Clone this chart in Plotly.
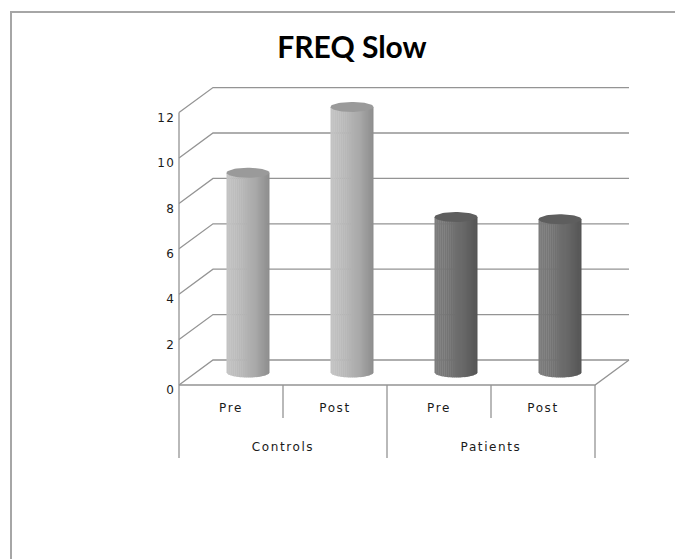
import numpy as np
import plotly.graph_objects as go

# ---- data ----
groups = ["Controls", "Patients"]
phases = ["Pre", "Post"]
values = [8.8, 11.7, 6.85, 6.75]          # Controls Pre, Controls Post, Patients Pre, Patients Post
series_of_bar = [0, 0, 1, 1]               # colour series per bar
y_ticks = [0, 2, 4, 6, 8, 10, 12]
title_text = "FREQ Slow"

# ---- geometry / style (pixel-derived; page body has an 8px margin) ----
OFF = 8
W, H = 683, 559
PX_X = 104.0      # px per category
PX_Y = 22.7       # px per value unit
X0_PX, Y0_PX = 179, 385          # front origin in page pixels
L_PX, R_PX, T_PX, B_PX = 177, 645, 80, 462   # plot area in page pixels
DX = 34 / PX_X
DY = 25 / PX_Y
GRID = "#949494"

L, R, T, B = L_PX - OFF, R_PX - OFF, T_PX - OFF, B_PX - OFF
xr = [(L_PX - X0_PX) / PX_X, (R_PX - X0_PX) / PX_X]
yr = [(Y0_PX - B_PX) / PX_Y, (Y0_PX - T_PX) / PX_Y]

def spaced(s, ls=1.6):
    return "<span style='letter-spacing:%spx'>%s</span>" % (ls, s)

fig = go.Figure()

def line(xs, ys, color=GRID, width=1.3):
    fig.add_trace(go.Scatter(x=xs, y=ys, mode="lines", line=dict(color=color, width=width),
                             hoverinfo="skip", showlegend=False))

# walls / floor
gx, gy = [], []
for v in y_ticks:
    gx += [0, DX, 4 + DX, None]
    gy += [v, v + DY, v + DY, None]
line(gx, gy)
line([0, 4, 4 + DX], [0, 0, DY])
line([0, 0], [0, y_ticks[-1]])

# category table lines
y_low = (Y0_PX - 458) / PX_Y
y_mid = (Y0_PX - 418) / PX_Y
tx, ty = [], []
for xv in [0, 2, 4]:
    tx += [xv, xv, None]; ty += [0, y_low, None]
for xv in [1, 3]:
    tx += [xv, xv, None]; ty += [0, y_mid, None]
line(tx, ty)

# cylinders
a = 21.5 / PX_X
b = 5.0 / PX_Y
side_cols = [
    [(196, 196, 196), (184, 184, 184), (170, 170, 170), (140, 140, 140)],
    [(125, 125, 125), (115, 115, 115), (104, 104, 104), (84, 84, 84)],
]
top_cols = ["#9a9a9a", "#5e5e5e"]

def interp(stops, t):
    n = len(stops) - 1
    k = min(int(t * n), n - 1)
    f = t * n - k
    c = [stops[k][j] + (stops[k + 1][j] - stops[k][j]) * f for j in range(3)]
    return "rgb(%d,%d,%d)" % tuple(int(round(v)) for v in c)

N = 22
for i, val in enumerate(values):
    cx = i + 0.5 + DX / 2
    base = DY / 2
    s = series_of_bar[i]
    for k in range(N):
        xa = cx - a + 2 * a * k / N
        xb = cx - a + 2 * a * (k + 1) / N
        xb2 = min(xb + 0.004, cx + a)
        xs = np.linspace(xa, xb2, 4)
        bot = base - b * np.sqrt(np.clip(1 - ((xs - cx) / a) ** 2, 0, 1))
        px = list(xs) + [xb2, xa, xa]
        py = list(bot) + [val + base, val + base, bot[0]]
        col = interp(side_cols[s], (k + 0.5) / N)
        fig.add_trace(go.Scatter(x=px, y=py, mode="lines", fill="toself", fillcolor=col,
                                 line=dict(width=0, color=col), hoverinfo="skip", showlegend=False))
    th = np.linspace(0, 2 * np.pi, 60)
    fig.add_trace(go.Scatter(x=cx + a * np.cos(th), y=val + base + b * np.sin(th), mode="lines",
                             fill="toself", fillcolor=top_cols[s], line=dict(width=0, color=top_cols[s]),
                             hoverinfo="skip", showlegend=False))

# category labels
lab_font = dict(family="DejaVu Sans", size=12, color="#1a1a1a")
fig.add_trace(go.Scatter(x=[0.5, 1.5, 2.5, 3.5], y=[(Y0_PX - 409) / PX_Y] * 4, mode="text",
                         text=[spaced(p) for p in phases * 2], textfont=lab_font,
                         hoverinfo="skip", showlegend=False))
fig.add_trace(go.Scatter(x=[1, 3], y=[(Y0_PX - 448) / PX_Y] * 2, mode="text",
                         text=[spaced(g) for g in groups], textfont=lab_font,
                         hoverinfo="skip", showlegend=False))

# outer chart border (extends past the image on right/bottom)
pw, ph = R - L, B - T
fig.add_shape(type="rect", xref="paper", yref="paper",
              x0=(11 - OFF - L) / pw, x1=3.0, y0=-3.0, y1=(B - (12 - OFF)) / ph,
              line=dict(color="#a6a6a6", width=2), fillcolor="rgba(0,0,0,0)", layer="below")

fig.update_layout(
    width=W, height=H,
    margin=dict(l=L, r=W - R, t=T, b=H - B),
    paper_bgcolor="white", plot_bgcolor="white",
    title=dict(text="<b>" + title_text + "</b>", x=(352 - OFF) / W, xref="container", xanchor="center",
               y=1 - (47 - OFF) / H, yref="container", yanchor="middle",
               font=dict(family="Lato", size=30, color="#000")),
    xaxis=dict(range=xr, visible=False, fixedrange=True),
    yaxis=dict(range=yr, tickvals=y_ticks, ticktext=[spaced(str(v), 1.2) for v in y_ticks],
               showgrid=False, zeroline=False, showline=False, ticks="",
               tickfont=lab_font, ticklabelshift=5, ticklabelstandoff=1, fixedrange=True),
    showlegend=False,
)

fig.write_html("out.html")
